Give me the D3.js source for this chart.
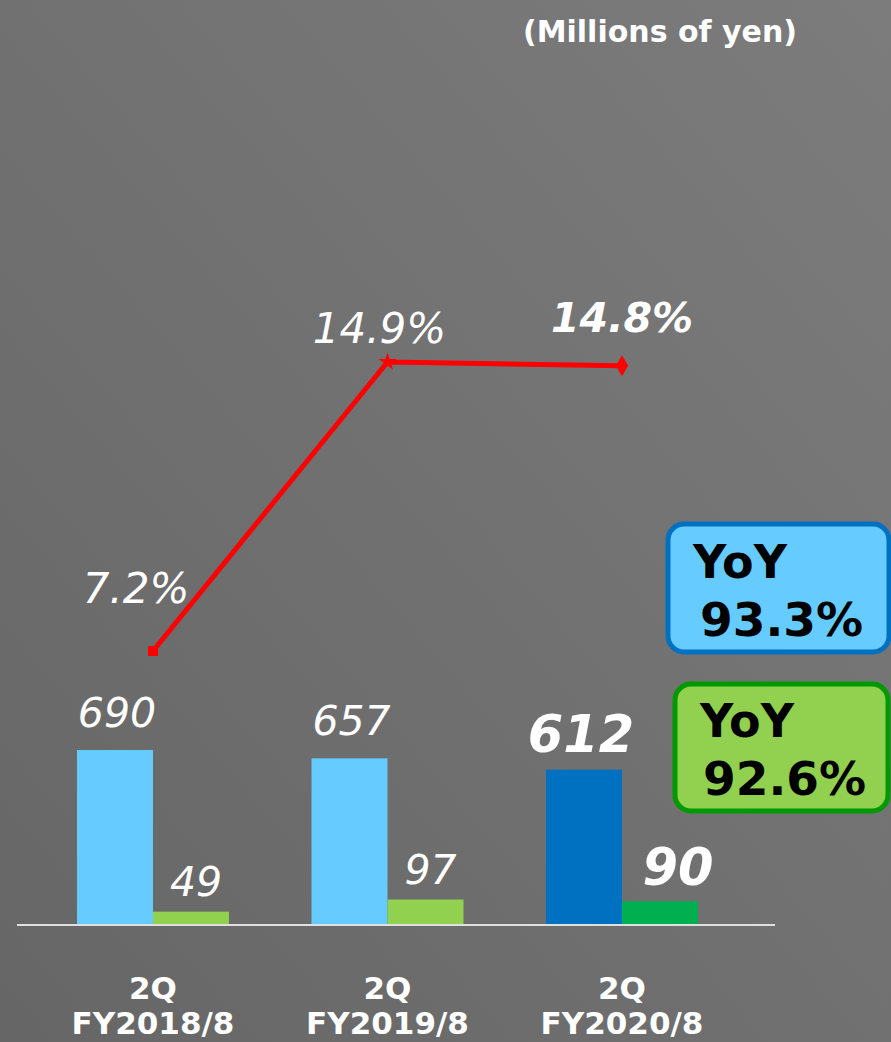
<!DOCTYPE html>
<html><head><meta charset="utf-8">
<script src="https://cdn.jsdelivr.net/npm/d3@7"></script>
<style>html,body{margin:0;padding:0;background:#6f6f6f;} svg{display:block;}</style>
</head><body><svg id="chart" width="891" height="1042"></svg>
<script>
// ---- data ----
const categories = ["2Q FY2018/8", "2Q FY2019/8", "2Q FY2020/8"];
const categoryLines = [["2Q", "FY2018/8"], ["2Q", "FY2019/8"], ["2Q", "FY2020/8"]];
const netSales = [690, 657, 612];
const operatingIncome = [49, 97, 90];
const operatingMargin = [7.2, 14.9, 14.8];
const marginLabels = ["7.2%", "14.9%", "14.8%"];
const seriesKeys = ["sales", "income"];
const yoyTitles = ["YoY", "YoY"];
const yoyValues = ["93.3%", "92.6%"];
const unitLabel = "(Millions of yen)";

// ---- setup ----
const W = 891, H = 1042;
const svg = d3.select("#chart");
const font = "'DejaVu Sans', Verdana, sans-serif";
const current = categories.length - 1;

const defs = svg.append("defs");
const grad = defs.append("linearGradient").attr("id", "bg")
  .attr("x1", "0%").attr("y1", "100%").attr("x2", "100%").attr("y2", "0%");
grad.append("stop").attr("offset", "0%").attr("stop-color", "#666666");
grad.append("stop").attr("offset", "100%").attr("stop-color", "#7c7c7c");
svg.append("rect").attr("width", W).attr("height", H).attr("fill", "url(#bg)");

const x = d3.scaleBand().domain(categories).range([77, 698]).paddingInner(0.352).paddingOuter(0);
const xs = d3.scaleBand().domain(seriesKeys).range([0, x.bandwidth()]);
const y = d3.scaleLinear().domain([0, 690]).range([924, 750]);
const yl = d3.scaleLinear().domain([7.2, 14.9]).range([651, 362]);

const colors = {
  sales: ["#66CCFF", "#0070C0"],
  income: ["#92D050", "#00B050"]
};

const rows = categories.map((c, i) => ({ c, i, sales: netSales[i], income: operatingIncome[i] }));

// unit label
svg.append("text").attr("x", 660).attr("y", 42).attr("text-anchor", "middle")
  .attr("font-family", font).attr("font-weight", "bold").attr("font-size", 30)
  .attr("fill", "#ffffff").text(unitLabel);

// bars
const g = svg.append("g");
rows.forEach(r => {
  seriesKeys.forEach(k => {
    const v = r[k];
    g.append("rect")
      .attr("x", x(r.c) + xs(k))
      .attr("y", y(v))
      .attr("width", xs.bandwidth())
      .attr("height", y(0) - y(v))
      .attr("fill", colors[k][r.i === current ? 1 : 0]);
    const hl = r.i === current;
    g.append("text")
      .attr("x", x(r.c) + xs(k) + xs.bandwidth() / 2 + (k === "income" ? (hl ? 18 : 5) : (hl ? -3 : 2)))
      .attr("y", y(v) - (k === "sales" ? (hl ? 18 : 23) : 16))
      .attr("text-anchor", "middle")
      .attr("font-family", font)
      .attr("font-style", "italic")
      .attr("font-weight", hl ? "bold" : "normal")
      .attr("font-size", hl ? 51 : 41)
      .attr("fill", "#ffffff")
      .text(v);
  });
});

// baseline
svg.append("line").attr("x1", 17).attr("x2", 775).attr("y1", 925).attr("y2", 925)
  .attr("stroke", "#e0e0e0").attr("stroke-width", 2);

// line series
const pts = operatingMargin.map((m, i) => [x(categories[i]) + x.bandwidth() / 2, yl(m)]);
svg.append("path")
  .attr("d", d3.line()(pts))
  .attr("fill", "none").attr("stroke", "#ff0000").attr("stroke-width", 5);
const symTypes = [d3.symbolSquare, d3.symbolStar, d3.symbolDiamond];
const symSizes = [100, 100, 130];
pts.forEach((p, i) => {
  svg.append("path")
    .attr("d", d3.symbol().type(symTypes[i]).size(symSizes[i])())
    .attr("transform", `translate(${p[0]},${p[1]})`)
    .attr("fill", "#ff0000");
});
marginLabels.forEach((t, i) => {
  const hl = i === current;
  svg.append("text")
    .attr("x", pts[i][0] + (i === 0 ? -17 : (hl ? 0 : -8)))
    .attr("y", pts[i][1] - (i === 0 ? 48 : (hl ? 34 : 19)))
    .attr("text-anchor", "middle")
    .attr("font-family", font).attr("font-style", "italic")
    .attr("font-weight", hl ? "bold" : "normal")
    .attr("font-size", hl ? 41 : 42)
    .attr("fill", "#ffffff").text(t);
});

// category labels
categoryLines.forEach((lines, i) => {
  const cx = x(categories[i]) + x.bandwidth() / 2;
  const t = svg.append("text").attr("text-anchor", "middle")
    .attr("font-family", font).attr("font-weight", "bold").attr("font-size", 31)
    .attr("fill", "#ffffff");
  t.append("tspan").attr("x", cx).attr("y", 999).text(lines[0]);
  t.append("tspan").attr("x", cx).attr("y", 1034).text(lines[1]);
});

// YoY boxes
const boxes = [
  { x: 668, y: 524, w: 221, h: 128, fill: "#66CCFF", stroke: "#0070C0", tx: 693, vx: 700, ty: 578, vy: 636 },
  { x: 675, y: 684, w: 213, h: 127, fill: "#92D050", stroke: "#009900", tx: 700, vx: 703, ty: 737, vy: 795 }
];
boxes.forEach((b, i) => {
  svg.append("rect").attr("x", b.x).attr("y", b.y).attr("width", b.w).attr("height", b.h)
    .attr("rx", 16).attr("ry", 16)
    .attr("fill", b.fill).attr("stroke", b.stroke).attr("stroke-width", 5);
  svg.append("text").attr("x", b.tx).attr("y", b.ty)
    .attr("font-family", font).attr("font-weight", "bold").attr("font-size", 46)
    .attr("fill", "#000000").text(yoyTitles[i]);
  svg.append("text").attr("x", b.vx).attr("y", b.vy)
    .attr("font-family", font).attr("font-weight", "bold").attr("font-size", 47)
    .attr("fill", "#000000").text(yoyValues[i]);
});
</script></body></html>
